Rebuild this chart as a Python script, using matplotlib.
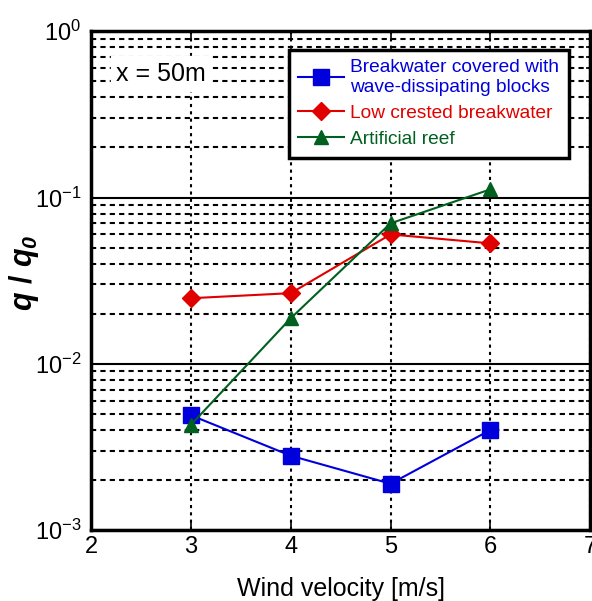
import matplotlib
matplotlib.use('Agg')
import matplotlib.pyplot as plt
from matplotlib.ticker import LogLocator, NullFormatter, LogFormatterSciNotation

plt.rcParams['font.family'] = ['Liberation Sans', 'DejaVu Sans']
plt.rcParams['mathtext.fontset'] = 'custom'
plt.rcParams['mathtext.rm'] = 'Liberation Sans'
plt.rcParams['mathtext.it'] = 'Liberation Sans:italic'
plt.rcParams['mathtext.bf'] = 'Liberation Sans:bold'
plt.rcParams['mathtext.bfit'] = 'Liberation Sans:bold:italic'

# data
wind = [3, 4, 5, 6]
blocks = [0.0049, 0.0028, 0.0019, 0.0040]
low_crested = [0.0248, 0.0266, 0.060, 0.053]
reef = [0.0043, 0.0188, 0.070, 0.112]
labels = ['Breakwater covered with\nwave-dissipating blocks',
          'Low crested breakwater',
          'Artificial reef']
colors = ['#0000dd', '#e00000', '#006020']

fig = plt.figure(figsize=(5.92, 6.01), dpi=100)
ax = fig.add_axes([0.154, 0.118, 0.843, 0.830])

ax.plot(wind, blocks, color=colors[0], marker='s', markersize=11, lw=1.5, label=labels[0])
ax.plot(wind, low_crested, color=colors[1], marker='D', markersize=9, lw=1.5, label=labels[1])
ax.plot(wind, reef, color=colors[2], marker='^', markersize=10, lw=1.5, label=labels[2])

ax.set_yscale('log')
ax.set_ylim(1e-3, 1)
ax.set_xlim(2, 7)
ax.set_xticks([2, 3, 4, 5, 6, 7])
ax.yaxis.set_major_locator(LogLocator(base=10, numticks=10))
ax.yaxis.set_minor_locator(LogLocator(base=10, subs=range(2, 10), numticks=20))
ax.yaxis.set_minor_formatter(NullFormatter())
ax.yaxis.set_major_formatter(LogFormatterSciNotation())

ax.grid(which='major', axis='y', color='black', lw=1.5, ls='-')
ax.grid(which='minor', axis='y', color='black', lw=1.5, ls=(0, (2.5, 2)))
ax.grid(which='major', axis='x', color='black', lw=1.5, ls=(0, (1.5, 2)))
ax.set_axisbelow(True)

ax.tick_params(which='both', direction='in', top=True, right=True, labelsize=17, width=1.2)
ax.tick_params(which='major', length=6)
ax.tick_params(axis='x', pad=4)
ax.tick_params(axis='y', pad=7)
ax.tick_params(which='minor', length=3)
for s in ax.spines.values():
    s.set_linewidth(2.5)

ax.set_xlabel('Wind velocity [m/s]', fontsize=18)
ax.xaxis.set_label_coords(0.5, -0.094)
ax.set_ylabel(r'$\mathbfit{q}$ / $\mathbfit{q}_\mathbfit{0}$', fontsize=22, fontweight='bold')
ax.yaxis.set_label_coords(-0.1, 0.517)

ax.text(0.05, 0.915, 'x = 50m', transform=ax.transAxes, fontsize=18,
        ha='left', va='center', backgroundcolor='white')

leg = ax.legend(loc='upper right', bbox_to_anchor=(0.976, 0.982), fontsize=13.8,
                fancybox=False, framealpha=1, edgecolor='black',
                handlelength=2.4, borderpad=0.5, labelspacing=0.45, handletextpad=0.3)
leg.get_frame().set_linewidth(2.5)
for t, c in zip(leg.get_texts(), colors):
    t.set_color(c)

fig.savefig('out.png', dpi=100)
